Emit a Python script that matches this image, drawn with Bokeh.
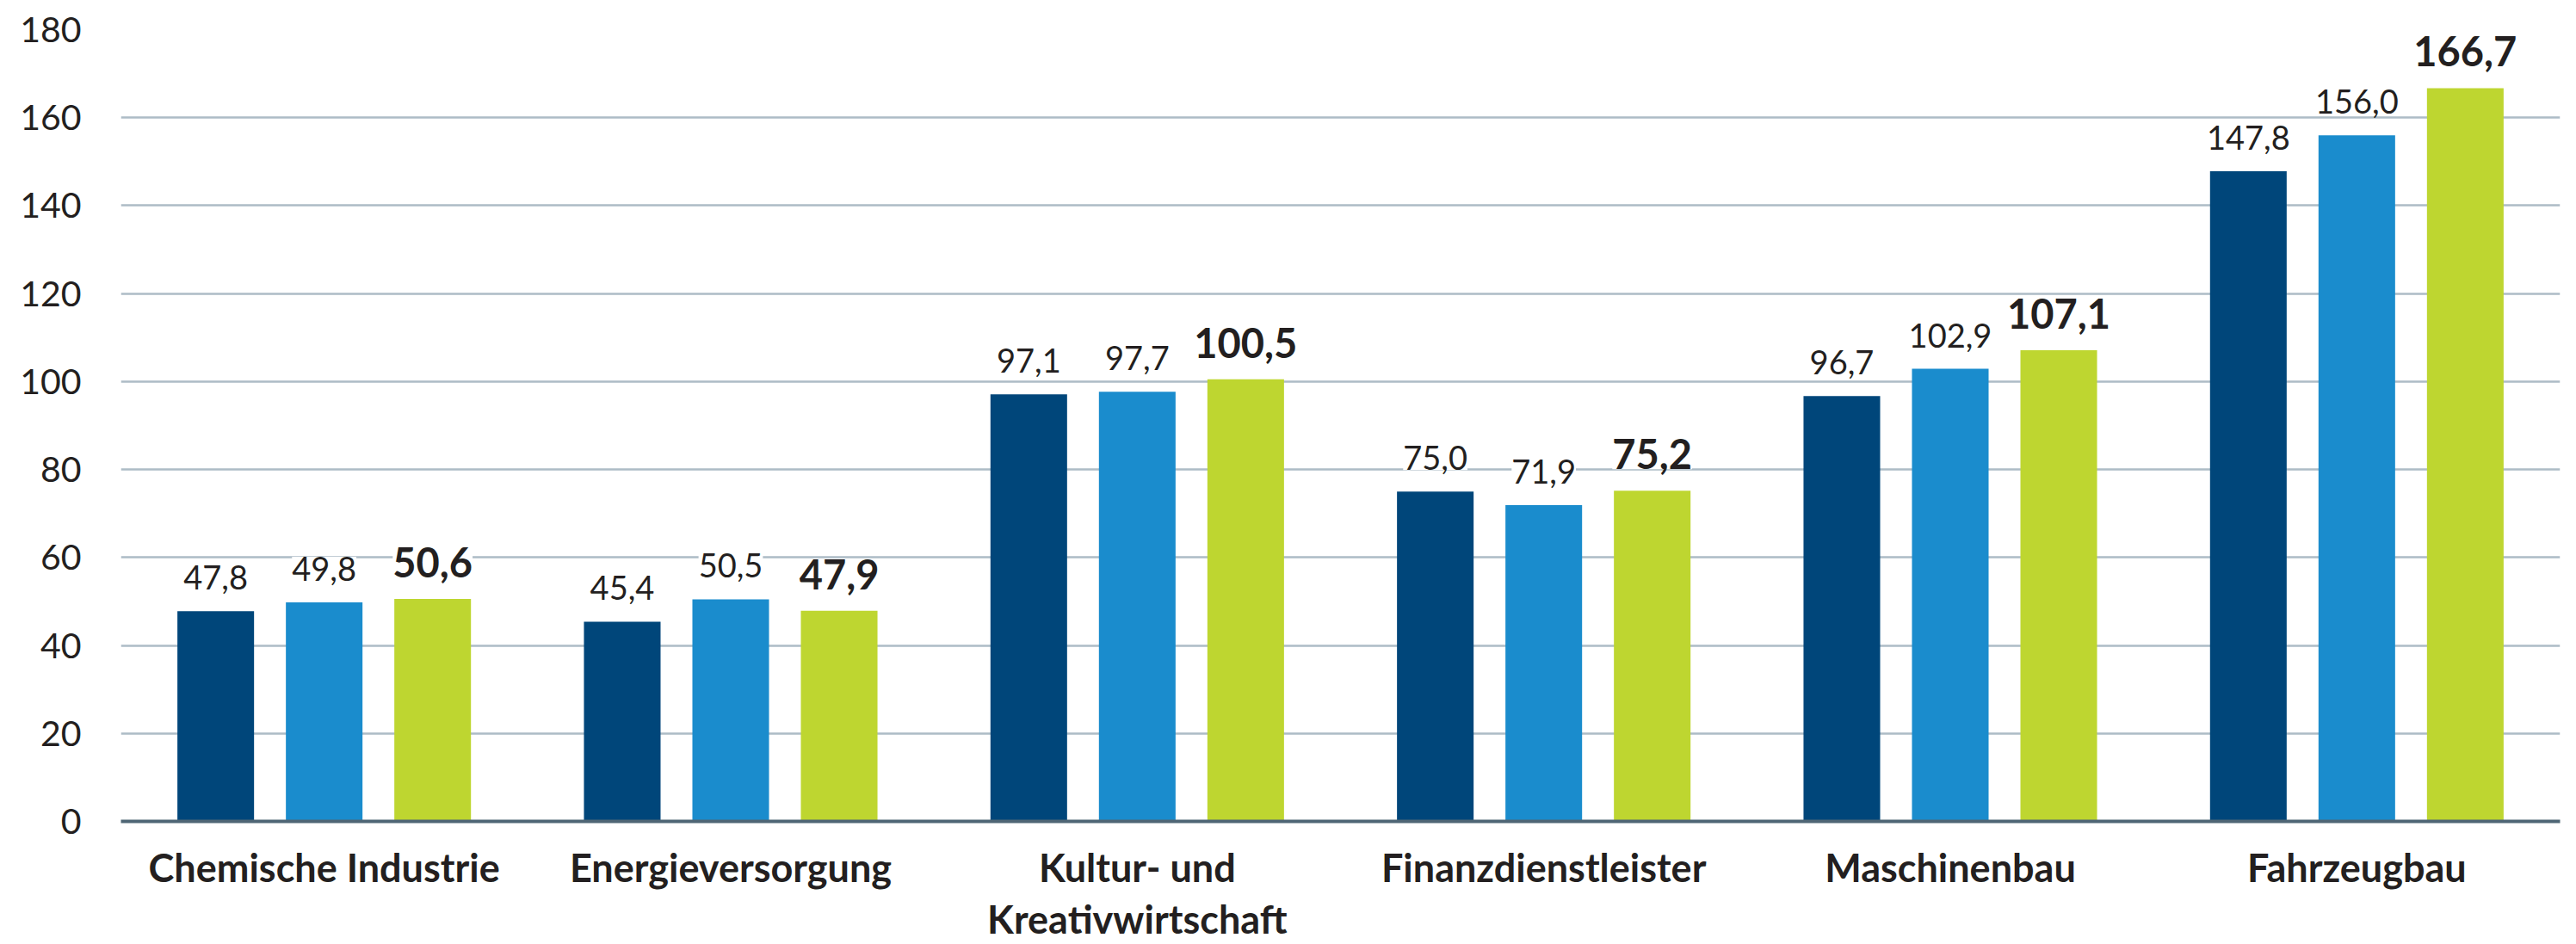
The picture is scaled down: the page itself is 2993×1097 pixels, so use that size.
from bokeh.plotting import figure
from bokeh.models import ColumnDataSource, FactorRange, Range1d, FixedTicker, LabelSet
from bokeh.transform import dodge
from bokeh.core.properties import value
from bokeh.embed import file_html
from bokeh.resources import INLINE

categories = ["Chemische Industrie", "Energieversorgung", "Kultur- und\nKreativwirtschaft",
              "Finanzdienstleister", "Maschinenbau", "Fahrzeugbau"]
series_a = [47.8, 45.4, 97.1, 75.0, 96.7, 147.8]
series_b = [49.8, 50.5, 97.7, 71.9, 102.9, 156.0]
series_c = [50.6, 47.9, 100.5, 75.2, 107.1, 166.7]
y_ticks = [0, 20, 40, 60, 80, 100, 120, 140, 160, 180]

colors = ["#00467a", "#1a8ccd", "#bed630"]
FONT = "Lato"
TXT = "#231f20"

def fmt(v):
    return f"{v:.1f}".replace(".", ",")

src = ColumnDataSource(dict(
    cat=categories,
    a=series_a, b=series_b, c=series_c,
    la=[fmt(v) for v in series_a],
    lb=[fmt(v) for v in series_b],
    lc=[fmt(v) for v in series_c],
))

p = figure(width=2993, height=1097, x_range=FactorRange(*categories, range_padding=0),
           y_range=Range1d(0, 180), output_backend="svg", toolbar_location=None,
           min_border_left=140, min_border_right=19, min_border_top=34, min_border_bottom=142)
p.outline_line_color = None
p.background_fill_color = "white"
p.border_fill_color = "white"

off = 0.2668
bw = 0.1885
for col, lab, o, c, bold in [("a", "la", -off, colors[0], False),
                             ("b", "lb", 0.0, colors[1], False),
                             ("c", "lc", off, colors[2], True)]:
    xs = dodge("cat", o, range=p.x_range)
    p.vbar(x=xs, top=col, width=bw, bottom=0, source=src, fill_color=c, line_color=None)
    ls = LabelSet(x=xs, y=col, text=lab, source=src, y_offset=25,
                  text_align="center", text_baseline="alphabetic",
                  text_font=value(FONT), text_font_size="47px" if bold else "38px",
                  text_font_style="bold" if bold else "normal", text_color=TXT,
                  background_fill_color="white")
    p.add_layout(ls)

p.xgrid.grid_line_color = None
p.ygrid.grid_line_color = "#adbcc6"
p.ygrid.grid_line_width = 2.5
p.yaxis.ticker = FixedTicker(ticks=y_ticks)

p.yaxis.axis_line_color = None
p.yaxis.major_tick_line_color = None
p.yaxis.minor_tick_line_color = None
p.yaxis.major_tick_out = 0
p.yaxis.major_label_standoff = 46
p.yaxis.major_label_text_font = FONT
p.yaxis.major_label_text_font_size = "41px"
p.yaxis.major_label_text_color = TXT

p.xaxis.axis_line_color = "#4f6675"
p.xaxis.axis_line_width = 4
p.xaxis.major_tick_line_color = None
p.xaxis.minor_tick_line_color = None
p.xaxis.major_tick_out = 0
p.xaxis.major_label_standoff = 26
p.xaxis.major_label_text_font = FONT
p.xaxis.major_label_text_font_style = "bold"
p.xaxis.major_label_text_font_size = "45px"
p.xaxis.major_label_text_color = TXT
p.xaxis.major_label_text_line_height = 1.12

open("out.html", "w").write(file_html(p, INLINE))
